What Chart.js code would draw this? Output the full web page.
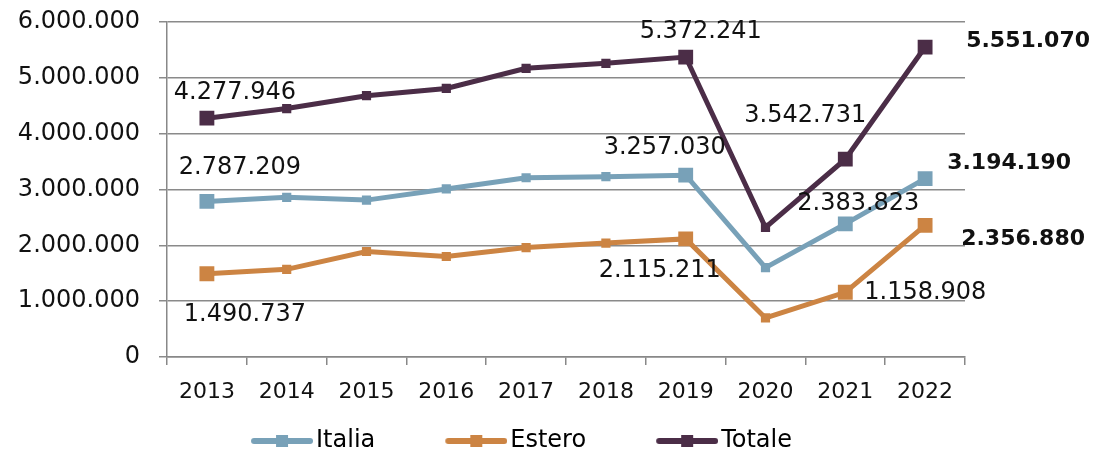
<!DOCTYPE html>
<html>
<head>
<meta charset="utf-8">
<script src="https://cdn.jsdelivr.net/npm/chart.js@4.4.0/dist/chart.umd.min.js"></script>
<style>
  html, body { margin: 0; padding: 0; background: #fff; }
  #wrap { width: 1093px; height: 452px; position: relative; }
</style>
</head>
<body>
<div id="wrap"><canvas id="chart"></canvas></div>
<script>
const years = ['2013', '2014', '2015', '2016', '2017', '2018', '2019', '2020', '2021', '2022'];
const italia = [2787209, 2860000, 2810000, 3010000, 3210000, 3230000, 3257030, 1600000, 2383823, 3194190];
const estero = [1490737, 1570000, 1890000, 1800000, 1960000, 2040000, 2115211, 700000, 1158908, 2356880];
const totale = [4277946, 4450000, 4680000, 4810000, 5170000, 5260000, 5372241, 2320000, 3542731, 5551070];
const yTicks = [0, 1000000, 2000000, 3000000, 4000000, 5000000, 6000000];

// which points get a value label (index list per series)
const labelled = {
  italia: [0, 6, 8, 9],
  estero: [0, 6, 8, 9],
  totale: [0, 6, 8, 9],
};

const colors = {
  italia: '#78a1b8',
  estero: '#cc8443',
  totale: '#4b2d47',
};

const fontNum = "'DejaVu Sans', sans-serif";
const ICON_W = 113;

function fmt(v) {
  return v.toString().replace(/\B(?=(\d{3})+(?!\d))/g, '.');
}

// legend icon: line with square, drawn at the right end of a wider transparent image
function legendIcon(color) {
  const c = document.createElement('canvas');
  c.width = ICON_W + 18;
  c.height = 14;
  const ctx = c.getContext('2d');
  const x0 = c.width - 62;
  ctx.strokeStyle = color;
  ctx.lineWidth = 6;
  ctx.lineCap = 'round';
  ctx.beginPath();
  ctx.moveTo(x0 + 3, 7);
  ctx.lineTo(x0 + 59, 7);
  ctx.stroke();
  ctx.fillStyle = color;
  ctx.fillRect(x0 + 25, 1, 12, 12);
  return c;
}

function radii(idx) {
  return years.map((y, i) => (idx.includes(i) ? 10.5 : 6.5));
}

// label offsets (dx, dy from the point)
const labelPos = {
  italia: { 0: [33, -34], 6: [-21, -27], 8: [13, -20], 9: [84, -15] },
  estero: { 0: [38, 41], 6: [-26, 32], 8: [80, 0], 9: [98, 14] },
  totale: { 0: [28, -25], 6: [15, -25], 8: [-40, -43], 9: [103, -6] },
};

const valueLabels = {
  id: 'valueLabels',
  afterDatasetsDraw(chart) {
    const ctx = chart.ctx;
    ctx.save();
    ctx.textAlign = 'center';
    ctx.textBaseline = 'middle';
    ctx.fillStyle = '#111';
    chart.data.datasets.forEach((ds, di) => {
      const key = ds.key;
      const meta = chart.getDatasetMeta(di);
      labelled[key].forEach((i) => {
        const pt = meta.data[i];
        const off = labelPos[key][i];
        ctx.font = i === 9 ? 'bold 22px ' + fontNum : '24px ' + fontNum;
        ctx.fillText(fmt(ds.data[i]), pt.x + off[0], pt.y + off[1]);
      });
    });
    ctx.restore();
  },
};

function series(key, label, data) {
  return {
    key: key,
    label: label,
    data: data,
    borderColor: colors[key],
    backgroundColor: colors[key],
    borderWidth: 5,
    pointStyle: 'rect',
    pointRadius: radii(labelled[key]),
    pointHoverRadius: radii(labelled[key]),
    pointBorderWidth: 0,
    tension: 0,
  };
}

new Chart(document.getElementById('chart'), {
  type: 'line',
  data: {
    labels: years,
    datasets: [
      series('italia', 'Italia', italia),
      series('estero', 'Estero', estero),
      series('totale', 'Totale', totale),
    ],
  },
  options: {
    responsive: true,
    maintainAspectRatio: false,
    animation: false,
    layout: { padding: { top: 22, right: 128, left: 18, bottom: -11 } },
    plugins: {
      legend: {
        position: 'bottom',
        labels: {
          usePointStyle: true,
          pointStyleWidth: ICON_W,
          padding: 10,
          color: '#111',
          font: { family: fontNum, size: 24 },
          generateLabels(chart) {
            return chart.data.datasets.map((ds, i) => ({
              text: ds.label,
              pointStyle: legendIcon(ds.borderColor),
              fillStyle: ds.borderColor,
              strokeStyle: ds.borderColor,
              lineWidth: 0,
              datasetIndex: i,
              hidden: false,
            }));
          },
        },
      },
      tooltip: { enabled: false },
    },
    scales: {
      x: {
        offset: true,
        afterFit(axis) {
          axis.height = 62;
        },
        grid: {
          offset: true,
          drawOnChartArea: false,
          drawTicks: true,
          tickLength: 8,
          color: '#888',
          lineWidth: 1.5,
        },
        border: { color: '#888', width: 1.5 },
        ticks: {
          color: '#111',
          padding: 14,
          font: { family: fontNum, size: 22 },
        },
      },
      y: {
        min: 0,
        max: 6000000,
        afterBuildTicks(axis) {
          axis.ticks = yTicks.map((v) => ({ value: v }));
        },
        afterFit(axis) {
          axis.width = 149;
          axis.paddingTop = 0;
          axis.paddingBottom = 0;
        },
        grid: {
          color: '#8a8a8a',
          lineWidth: 1.5,
          tickLength: 8,
        },
        border: { color: '#888', width: 1.5 },
        ticks: {
          color: '#111',
          padding: 19,
          font: { family: fontNum, size: 24 },
          callback: (v) => fmt(v),
        },
      },
    },
  },
  plugins: [valueLabels],
});
</script>
</body>
</html>
